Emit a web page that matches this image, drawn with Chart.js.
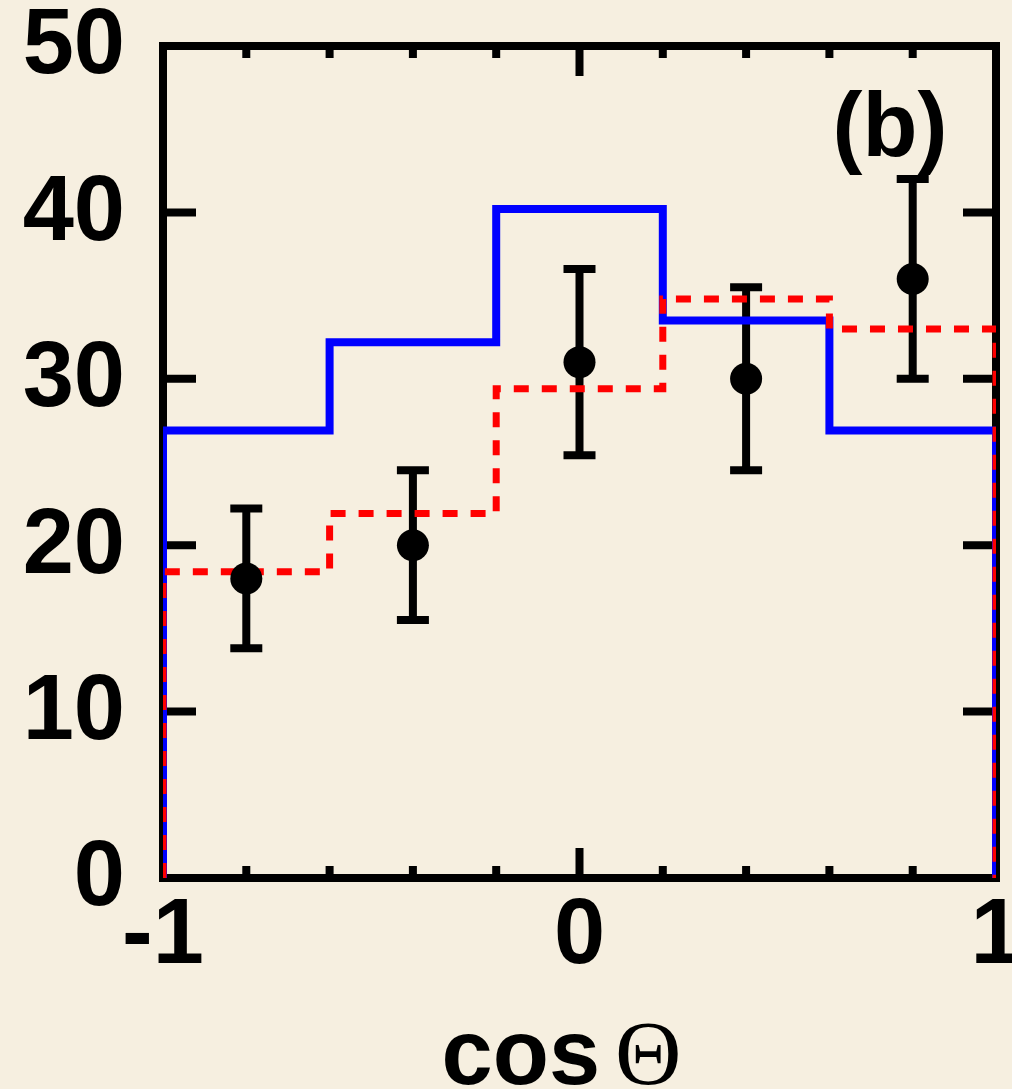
<!DOCTYPE html>
<html>
<head>
<meta charset="utf-8">
<script src="https://cdn.jsdelivr.net/npm/chart.js@4/dist/chart.umd.min.js"></script>
<style>
  html, body { margin: 0; padding: 0; background: #f6efe0; }
  .wrap { width: 1012px; height: 1089px; position: relative; }
</style>
</head>
<body>
<div class="wrap"><canvas id="cosChart"></canvas></div>
<script>
// bin edges in cos(theta) and the two histogram predictions
const binEdges = [-1, -0.6, -0.2, 0.2, 0.6, 1];
const blueHist = [26.9, 32.2, 40.2, 33.5, 26.9];
const redHist = [18.4, 21.9, 29.4, 34.8, 33.0];

// measured points with errors
const dataX = [-0.8, -0.4, 0, 0.4, 0.8];
const dataY = [18, 20, 31, 30, 36];
const dataErr = [4.2, 4.5, 5.6, 5.5, 6.0];

// axis ticks
const yTicks = [0, 10, 20, 30, 40, 50];
const yTickLabels = ['0', '10', '20', '30', '40', '50'];
const xTicks = [-1, -0.8, -0.6, -0.4, -0.2, 0, 0.2, 0.4, 0.6, 0.8, 1];
const xLabelTicks = [-1, 0, 1];
const xTickLabels = ['-1', '0', '1'];

const xTitle = 'cos';
const xTitleSymbol = 'Θ';
const panelLabel = '(b)';

// turn per-bin values into an outline that starts and ends at zero
function stepOutline(values) {
    const pts = [{ x: binEdges[0], y: 0 }];
    values.forEach((v, i) => {
        pts.push({ x: binEdges[i], y: v });
        pts.push({ x: binEdges[i + 1], y: v });
    });
    pts.push({ x: binEdges[binEdges.length - 1], y: 0 });
    return pts;
}

const sansBold = '"Liberation Sans", Arial, Helvetica, sans-serif';

const framePlugin = {
    id: 'frame',
    beforeDatasetsDraw(chart) {
        const { ctx, chartArea: a, scales: { x, y } } = chart;
        ctx.save();
        ctx.strokeStyle = '#000';
        ctx.lineWidth = 8;
        ctx.lineCap = 'butt';
        ctx.strokeRect(a.left, a.top, a.right - a.left, a.bottom - a.top);

        // y ticks, inward on both sides
        yTicks.forEach((v) => {
            const py = y.getPixelForValue(v);
            ctx.beginPath();
            ctx.moveTo(a.left, py); ctx.lineTo(a.left + 33, py);
            ctx.moveTo(a.right, py); ctx.lineTo(a.right - 33, py);
            ctx.stroke();
        });
        // x ticks, longer where there is a label
        xTicks.forEach((v) => {
            const px = x.getPixelForValue(v);
            const len = xLabelTicks.includes(v) ? 30 : 12;
            ctx.beginPath();
            ctx.moveTo(px, a.bottom); ctx.lineTo(px, a.bottom - len);
            ctx.moveTo(px, a.top); ctx.lineTo(px, a.top + len);
            ctx.stroke();
        });

        // error bars with caps
        ctx.lineWidth = 8;
        dataX.forEach((xv, i) => {
            const px = x.getPixelForValue(xv);
            const lo = y.getPixelForValue(dataY[i] - dataErr[i]);
            const hi = y.getPixelForValue(dataY[i] + dataErr[i]);
            ctx.beginPath();
            ctx.moveTo(px, lo); ctx.lineTo(px, hi);
            ctx.moveTo(px - 16, lo); ctx.lineTo(px + 16, lo);
            ctx.moveTo(px - 16, hi); ctx.lineTo(px + 16, hi);
            ctx.stroke();
        });
        ctx.restore();
    },
    afterDraw(chart) {
        const { ctx, chartArea: a, scales: { x, y } } = chart;
        ctx.save();
        ctx.fillStyle = '#000';

        ctx.font = 'bold 92px ' + sansBold;
        ctx.textAlign = 'right';
        ctx.textBaseline = 'middle';
        yTicks.forEach((v, i) => {
            ctx.fillText(yTickLabels[i], a.left - 38, y.getPixelForValue(v) + 2);
        });

        ctx.textAlign = 'center';
        xLabelTicks.forEach((v, i) => {
            ctx.fillText(xTickLabels[i], x.getPixelForValue(v), a.bottom + 60);
        });

        // axis title: bold "cos" followed by a serif Theta
        ctx.textBaseline = 'alphabetic';
        ctx.textAlign = 'left';
        const titleFont = 'bold 92px ' + sansBold;
        const symFont = '92px "Liberation Serif", "Times New Roman", serif';
        ctx.font = titleFont;
        const w1 = ctx.measureText(xTitle).width;
        ctx.font = symFont;
        const w2 = ctx.measureText(xTitleSymbol).width;
        const gap = 15;
        const cx = (a.left + a.right) / 2 - 18;
        const startX = cx - (w1 + gap + w2) / 2;
        ctx.font = titleFont;
        ctx.fillText(xTitle, startX, 1084);
        ctx.font = symFont;
        ctx.fillText(xTitleSymbol, startX + w1 + gap, 1084);

        ctx.font = 'bold 90px ' + sansBold;
        ctx.textAlign = 'center';
        ctx.fillText(panelLabel, 890, 156);
        ctx.restore();
    }
};

const ctx = document.getElementById('cosChart').getContext('2d');
new Chart(ctx, {
    type: 'line',
    data: {
        datasets: [
            {
                type: 'scatter',
                label: 'data',
                data: dataX.map((xv, i) => ({ x: xv, y: dataY[i] })),
                pointRadius: 16,
                pointBackgroundColor: '#000',
                pointBorderWidth: 0,
                showLine: false,
                order: 0,
            },
            {
                label: 'red',
                data: stepOutline(redHist),
                borderColor: '#ff0000',
                borderWidth: 7,
                borderDash: [15, 13],
                borderCapStyle: 'butt',
                borderJoinStyle: 'miter',
                pointRadius: 0,
                tension: 0,
                fill: false,
                order: 1,
            },
            {
                label: 'blue',
                data: stepOutline(blueHist),
                borderColor: '#0000ff',
                borderWidth: 8,
                borderJoinStyle: 'miter',
                pointRadius: 0,
                tension: 0,
                fill: false,
                order: 2,
            },
        ],
    },
    options: {
        responsive: true,
        maintainAspectRatio: false,
        animation: false,
        layout: { padding: { left: 163, top: 46, right: 15, bottom: 211 } },
        scales: {
            x: { type: 'linear', min: -1, max: 1, display: false },
            y: { type: 'linear', min: 0, max: 50, display: false },
        },
        plugins: {
            legend: { display: false },
            tooltip: { enabled: false },
        },
    },
    plugins: [framePlugin],
});
</script>
</body>
</html>
